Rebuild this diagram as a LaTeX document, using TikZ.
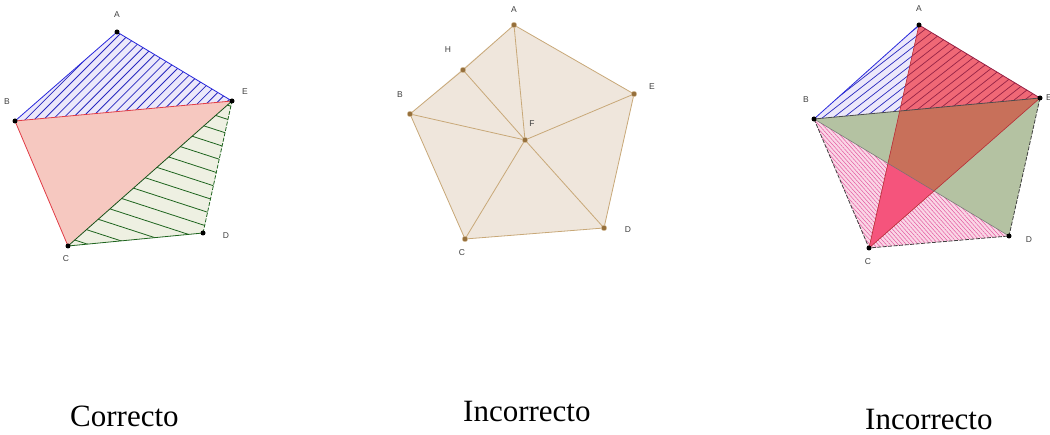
\documentclass[tikz,border=0pt]{standalone}
\usepackage{fontspec}
\setmainfont{Liberation Serif}
\newfontfamily\lblfont{Liberation Sans}
\usetikzlibrary{patterns.meta}
\definecolor{lav}{RGB}{236,232,250}
\definecolor{hblue}{RGB}{40,40,190}
\definecolor{eblue}{RGB}{40,40,220}
\definecolor{pinkf}{RGB}{246,200,192}
\definecolor{ered}{RGB}{225,60,70}
\definecolor{greenf}{RGB}{238,240,226}
\definecolor{hgreen}{RGB}{30,100,30}
\definecolor{beige}{RGB}{239,230,220}
\definecolor{tan}{RGB}{200,168,120}
\definecolor{tandot}{RGB}{150,112,60}
\definecolor{sage}{RGB}{180,194,162}
\definecolor{redf}{RGB}{240,104,118}
\definecolor{brownf}{RGB}{200,112,90}
\definecolor{lpink}{RGB}{250,214,230}
\definecolor{hpink}{RGB}{228,90,160}
\definecolor{brightpink}{RGB}{245,84,124}
\definecolor{hdred}{RGB}{150,35,70}
\begin{document}
\begin{tikzpicture}[x=1pt,y=-1pt,
  dot/.style={circle,fill=black,inner sep=0pt,minimum size=5pt},
  tdot/.style={circle,fill=tandot,draw=tan!70!white,line width=0.4pt,inner sep=0pt,minimum size=5.5pt},
  lbl/.style={font=\lblfont\fontsize{8.5}{9}\selectfont,text=black!75,inner sep=0pt},
  captxt/.style={font=\fontsize{31}{36}\selectfont,inner sep=0pt,anchor=base west},
  edg/.style={line width=0.8pt},
  hatchline/.style={line width=0.8pt}]
\useasboundingbox (0,0) rectangle (1050,435);

% ---------- Pentagon 1 ----------
\coordinate (A1) at (117,32);
\coordinate (B1) at (15,121);
\coordinate (C1) at (68,246);
\coordinate (D1) at (203,233);
\coordinate (E1) at (232,101);
\fill[lav] (A1)--(B1)--(E1)--cycle;
\begin{scope}
  \clip (A1)--(B1)--(E1)--cycle;
  \begin{scope}[shift={(120,80)},rotate=45]
    \foreach \i in {-20,...,20} \draw[hatchline,hblue] (-200,\i*6.5) -- (200,\i*6.5);
  \end{scope}
\end{scope}
\fill[pinkf] (B1)--(C1)--(E1)--cycle;
\fill[greenf] (C1)--(D1)--(E1)--cycle;
\begin{scope}
  \clip (C1)--(D1)--(E1)--cycle;
  \begin{scope}[shift={(170,200)},rotate=-18]
    \foreach \i in {-12,...,12} \draw[hatchline,hgreen] (-200,\i*13.5) -- (200,\i*13.5);
  \end{scope}
\end{scope}
\draw[edg,eblue] (B1)--(A1)--(E1);
\draw[edg,ered] (E1)--(B1)--(C1);
\draw[edg,hgreen!80!black] (C1)--(E1);
\draw[edg,hgreen] (C1)--(D1);
\draw[edg,hgreen,dash pattern=on 4pt off 1.5pt] (D1)--(E1);
\foreach \p in {A1,B1,C1,D1,E1} \node[dot] (p\p) at (\p) {};
\node[lbl] (lA1) at (117,15) {A};
\node[lbl] (lB1) at (7,102) {B};
\node[lbl] (lC1) at (66,259) {C};
\node[lbl] (lD1) at (226,236) {D};
\node[lbl] (lE1) at (245,92) {E};

% ---------- Pentagon 2 ----------
\coordinate (A2) at (514,25);
\coordinate (H2) at (463,70);
\coordinate (B2) at (410,114);
\coordinate (C2) at (465,239);
\coordinate (D2) at (604,228);
\coordinate (E2) at (634,94);
\coordinate (F2) at (525,140);
\fill[beige] (A2)--(B2)--(C2)--(D2)--(E2)--cycle;
\draw[edg,tan,line join=round] (A2)--(H2)--(B2)--(C2)--(D2)--(E2)--cycle;
\foreach \p in {A2,H2,B2,C2,D2,E2} \draw[edg,tan] (F2)--(\p);
\foreach \p in {A2,H2,B2,C2,D2,E2,F2} \node[tdot] (p\p) at (\p) {};
\node[lbl] (lA2) at (514,10) {A};
\node[lbl] (lH2) at (448,50) {H};
\node[lbl] (lB2) at (400,95) {B};
\node[lbl] (lC2) at (462,253) {C};
\node[lbl] (lD2) at (628,230) {D};
\node[lbl] (lE2) at (652,87) {E};
\node[lbl] (lF2) at (532,124) {F};

% ---------- Pentagon 3 ----------
\coordinate (A3) at (919,25);
\coordinate (B3) at (814,119);
\coordinate (C3) at (869,248);
\coordinate (D3) at (1009,236);
\coordinate (E3) at (1040,98);
\fill[lav] (A3)--(B3)--(E3)--cycle;
\fill[lpink] (B3)--(C3)--(D3)--cycle;
\fill[pattern={Lines[angle=-48,distance=3pt,line width=0.5pt]},pattern color=hpink] (B3)--(C3)--(D3)--cycle;
\fill[sage] (B3)--(D3)--(E3)--cycle;
\fill[redf] (A3)--(C3)--(E3)--cycle;
\begin{scope}
  \clip (A3)--(C3)--(E3)--cycle;
  \fill[brownf] (B3)--(D3)--(E3)--cycle;
  \fill[brightpink] (B3)--(C3)--(D3)--cycle;
\end{scope}
\begin{scope}
  \clip (A3)--(B3)--(E3)--cycle;
  \begin{scope}[shift={(930,75)},rotate=38]
    \foreach \i in {-20,...,20} \draw[hatchline,line width=0.7pt,hblue] (-200,\i*6.5) -- (200,\i*6.5);
  \end{scope}
\end{scope}
\begin{scope}
  \clip (A3)--(C3)--(E3)--cycle;
  \clip (A3)--(B3)--(E3)--cycle;
  \fill[redf] (A3)--(B3)--(E3)--cycle;
  \begin{scope}[shift={(930,75)},rotate=38]
    \foreach \i in {-20,...,20} \draw[hatchline,line width=0.7pt,hdred] (-200,\i*6.5) -- (200,\i*6.5);
  \end{scope}
\end{scope}
\draw[edg,eblue] (B3)--(A3);
\draw[edg,hdred] (A3)--(E3);
\draw[edg,black!70] (B3)--(E3);
\draw[line width=0.6pt,ered!80!black] (A3)--(C3)--(E3);
\draw[line width=0.5pt,black!55] (B3)--(D3);
\draw[edg,black!75,dash pattern=on 4pt off 1.5pt] (B3)--(C3)--(D3)--(E3);
\foreach \p in {A3,B3,C3,D3,E3} \node[dot] (p\p) at (\p) {};
\node[lbl] (lA3) at (919,9) {A};
\node[lbl] (lB3) at (806,100) {B};
\node[lbl] (lC3) at (868,262) {C};
\node[lbl] (lD3) at (1029,240) {D};
\node[lbl] (lE3) at (1049,98) {E};

% ---------- captions ----------
\node[captxt] (t1) at (70,427) {Correcto};
\node[captxt] (t2) at (463,422) {Incorrecto};
\node[captxt] (t3) at (865,430) {Incorrecto};
\end{tikzpicture}
\end{document}
